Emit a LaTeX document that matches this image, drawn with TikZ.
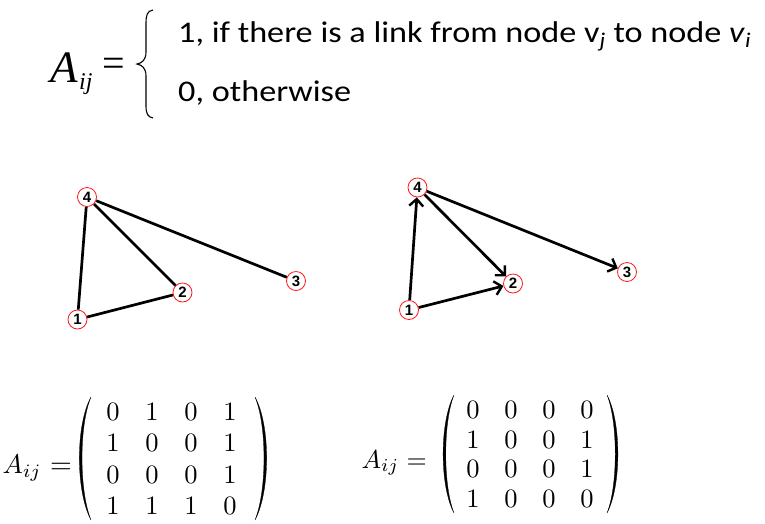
\documentclass[tikz,border=0pt]{standalone}
\usepackage{fontspec}
\newfontfamily\calfont{Carlito}
\newfontfamily\eqfont{Liberation Serif}
\newfontfamily\lblfont{Liberation Sans}
\usetikzlibrary{arrows.meta,matrix}
\newcommand\mz[1]{\scalebox{2.65}{$#1$}}
\begin{document}
\begin{tikzpicture}[x=1pt,y=-1pt,
  vnode/.style={circle, draw=red!90!white, line width=0.8pt, fill=white, minimum size=19pt, inner sep=0pt, font=\lblfont\bfseries\fontsize{15}{15}\selectfont},
  edge/.style={line width=2.7pt, black},
  arc/.style={line width=2.7pt, black, -{Straight Barb[length=7pt,width=14pt,line width=2.4pt]}},
  mat/.style={matrix of nodes, inner sep=0pt, nodes={anchor=center, inner sep=0pt}},
  txt/.style={anchor=base west, inner sep=0pt},
  paren/.style={fill=black, draw=black, line width=0.3pt}
]
\useasboundingbox (0,0) rectangle (765,523);
% top formula
\node[txt, font=\eqfont\fontsize{45}{45}\selectfont\itshape] (A) at (50,82) {A};
\node[txt, font=\eqfont\fontsize{24}{24}\selectfont\itshape] (ij) at (79,89) {ij};
\node[txt, font=\eqfont\fontsize{40}{40}\selectfont] (eq) at (102,76) {=};
\draw[line width=1.1pt] (153,10) .. controls (147,11) and (146,15) .. (146,24) -- (146,52)
  .. controls (146,60) and (142,63) .. (137,64) .. controls (142,65) and (146,68) .. (146,76)
  -- (146,106) .. controls (146,114) and (148,117) .. (153,118);
\node[txt, font=\calfont\fontsize{30}{30}\selectfont] (l1) at (178,42) {\scalebox{1.14}[1]{1, if there is a link from node v\textsubscript{\textit{j}} to node \textit{v}\textsubscript{\textit{i}}}};
\node[txt, font=\calfont\fontsize{30}{30}\selectfont] (l2) at (178,101) {\scalebox{1.14}[1]{0, otherwise}};
% left graph
\node[vnode] (a4) at (87,197) {4};
\node[vnode] (a1) at (77.5,319.5) {1};
\node[vnode] (a2) at (182.5,292.5) {2};
\node[vnode] (a3) at (296,281) {3};
\draw[edge] (a1) -- (a4);
\draw[edge] (a1) -- (a2);
\draw[edge] (a4) -- (a2);
\draw[edge] (a4) -- (a3);
% right graph
\node[vnode] (b4) at (417.5,187.5) {4};
\node[vnode] (b1) at (409,310) {1};
\node[vnode] (b2) at (513,283.5) {2};
\node[vnode] (b3) at (627,272) {3};
\draw[arc] (b1) -- (b4);
\draw[arc] (b1) -- (b2);
\draw[arc] (b4) -- (b2);
\draw[arc] (b4) -- (b3);
% left matrix
\node[anchor=base east, inner sep=0pt] (LA) at (42,473) {\scalebox{2.7}{$A_{ij}$}};
\node[anchor=base west, inner sep=0pt] (LE) at (50,473) {\scalebox{2.8}{$=$}};
\matrix (LM) [mat, nodes={minimum width=39pt, minimum height=31.5pt}] at (171.5,459) {
\mz0 & \mz1 & \mz0 & \mz1\\
\mz1 & \mz0 & \mz0 & \mz1\\
\mz0 & \mz0 & \mz0 & \mz1\\
\mz1 & \mz1 & \mz1 & \mz0\\};
\fill[paren] (91,397) .. controls (75.5,425) and (75.5,491) .. (91,520)
  .. controls (79,491) and (79,425) .. (91,397) -- cycle;
\fill[paren] (255,397) .. controls (270.5,425) and (270.5,491) .. (255,520)
  .. controls (267,491) and (267,425) .. (255,397) -- cycle;
% right matrix
\node[anchor=base east, inner sep=0pt] (RA) at (427,468) {\scalebox{2.6}{$A_{ij} =$}};
\matrix (RM) [mat, nodes={minimum width=38pt, minimum height=29.6pt}] at (530,454.5) {
\mz0 & \mz0 & \mz0 & \mz0\\
\mz1 & \mz0 & \mz0 & \mz1\\
\mz0 & \mz0 & \mz0 & \mz1\\
\mz1 & \mz0 & \mz0 & \mz0\\};
\fill[paren] (454,395) .. controls (439.5,422) and (439.5,486) .. (454,513)
  .. controls (443,486) and (443,422) .. (454,395) -- cycle;
\fill[paren] (607,395) .. controls (621.5,422) and (621.5,486) .. (607,513)
  .. controls (618,486) and (618,422) .. (607,395) -- cycle;
\end{tikzpicture}
\end{document}
